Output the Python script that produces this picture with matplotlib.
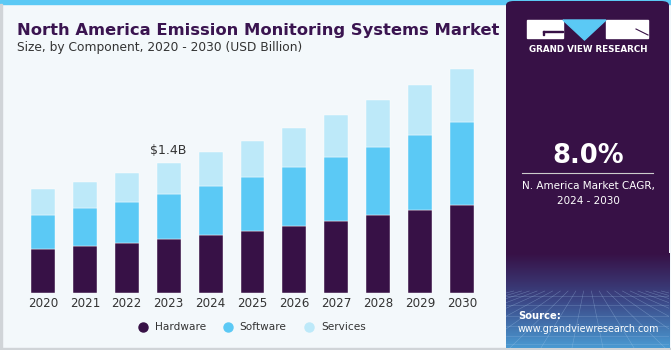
import numpy as np
import matplotlib
matplotlib.use("Agg")
import matplotlib.pyplot as plt
from matplotlib.patches import Rectangle, Polygon, FancyBboxPatch
from matplotlib.colors import LinearSegmentedColormap

# data (USD Billion)
years = ["2020", "2021", "2022", "2023", "2024", "2025", "2026", "2027", "2028", "2029", "2030"]
hardware = [0.475, 0.507, 0.543, 0.583, 0.623, 0.669, 0.720, 0.777, 0.839, 0.893, 0.953]
software = [0.370, 0.410, 0.439, 0.486, 0.525, 0.583, 0.633, 0.688, 0.734, 0.805, 0.885]
services = [0.274, 0.284, 0.310, 0.331, 0.367, 0.389, 0.421, 0.457, 0.503, 0.540, 0.572]
series_names = ["Hardware", "Software", "Services"]
series_colors = ["#371146", "#5bc9f5", "#bde9f9"]
highlight_year = "2023"
highlight_label = "$1.4B"

W, H = 671, 350
BG = "#f3f8fb"
PURPLE = "#371146"

fig = plt.figure(figsize=(W / 100, H / 100), dpi=100)
fig.patch.set_facecolor(BG)


def px(x, y):
    # pixel coords (from top-left) -> figure fraction
    return x / W, 1 - y / H


def frect(x, y, w, h, **kw):
    fig.patches.append(Rectangle((x / W, 1 - (y + h) / H), w / W, h / H,
                                 transform=fig.transFigure, **kw))


# frame: top blue stripe, grey border
frect(0, 0, W, 4, color="#5bc9f5", zorder=0)
frect(0, 4, 1.5, H - 4, color="#d0d4d8", zorder=0)
frect(0, H - 2, W, 2, color="#d0d4d8", zorder=0)

# title
fig.text(*px(17, 30), "North America Emission Monitoring Systems Market",
         fontsize=11.8, fontweight="bold", color="#3a1450", va="center", ha="left")
fig.text(*px(17, 48), "Size, by Component, 2020 - 2030 (USD Billion)",
         fontsize=8.8, color="#333333", va="center", ha="left")

# bar chart
ax = fig.add_axes([22 / W, 57 / H, 461 / W, 232 / H])
ax.set_facecolor("none")
x = np.arange(len(years))
bottom = np.zeros(len(years))
for vals, name, col in zip([hardware, software, services], series_names, series_colors):
    ax.bar(x, vals, width=0.57, bottom=bottom, color=col, label=name,
           edgecolor="#ffffff", linewidth=0.3, zorder=2)
    bottom = bottom + np.array(vals)

hi = years.index(highlight_year)
ax.text(x[hi], bottom[hi] + 0.07, highlight_label, ha="center", va="bottom",
        fontsize=9, color="#333333")

ax.set_xlim(-0.5, len(years) - 0.5)
ax.set_ylim(0, 2.5)
ax.set_xticks(x)
ax.set_xticklabels(years, fontsize=8.6, color="#333333")
ax.tick_params(axis="x", length=0, pad=3)
ax.set_yticks([])
for s in ax.spines.values():
    s.set_visible(False)

# legend
leg_items = [(143, 155), (228, 239), (309, 321)]
for (mx, tx), name, col in zip(leg_items, series_names, series_colors):
    fig.lines.append(plt.Line2D([mx / W], [1 - 327 / H], marker="o", markersize=6.5,
                                color=col, transform=fig.transFigure))
    fig.text(*px(tx, 327), name, fontsize=7.6, color="#333333", va="center", ha="left")

# right panel
panel = FancyBboxPatch((506 / W, 2 / H), (W - 508) / W, (H - 3) / H,
                       boxstyle="round,pad=0,rounding_size=0.012",
                       transform=fig.transFigure, facecolor=PURPLE,
                       edgecolor="none", zorder=1)
fig.patches.append(panel)

# gradient with a perspective grid at the bottom of the panel
gax = fig.add_axes([506 / W, 2 / H, (W - 508) / W, 95 / H])
gax.set_zorder(2)
gax.patch.set_visible(False)
grad = np.linspace(0, 1, 100)[:, None]
cmap = LinearSegmentedColormap.from_list("g", ["#4a9ad2", "#3b4786", PURPLE])
gax.imshow(grad, aspect="auto", cmap=cmap, origin="lower", extent=[0, 1, 0, 1])
for k in np.linspace(-1.5, 2.5, 22):
    gax.plot([0.5 + (k - 0.5) * 0.25, k], [0.6, 0], color="#a8c8ea", lw=0.4, alpha=0.4)
for yy in [0.04, 0.13, 0.23, 0.34, 0.45, 0.55]:
    gax.plot([0, 1], [yy, yy], color="#a8c8ea", lw=0.4, alpha=0.35)
gax.set_xlim(0, 1)
gax.set_ylim(0, 1)
gax.axis("off")

# logo
frect(527, 20, 36, 18, color="white", zorder=3)
frect(606, 20, 42, 18, color="white", zorder=3)
fig.patches.append(Polygon([px(563, 20), px(606, 20), px(584.5, 40)], closed=True,
                           color="#5bc9f5", transform=fig.transFigure, zorder=3))
frect(543, 31, 20, 1.2, color=PURPLE, zorder=4)
frect(543, 31, 1.2, 4, color=PURPLE, zorder=4)
fig.lines.append(plt.Line2D([636 / W, 648 / W], [1 - 29 / H, 1 - 35 / H],
                            color=PURPLE, lw=0.8, transform=fig.transFigure, zorder=4))
fig.text(*px(588, 50), "GRAND VIEW RESEARCH", fontsize=6.3, fontweight="bold",
         color="white", ha="center", va="center", zorder=4)

fig.text(*px(588, 156), "8.0%", fontsize=18.5, fontweight="bold", color="white",
         ha="center", va="center", zorder=4)
fig.lines.append(plt.Line2D([522 / W, 653 / W], [1 - 173 / H, 1 - 173 / H],
                            color="#cccccc", lw=0.8, transform=fig.transFigure, zorder=4))
fig.text(*px(588, 186), "N. America Market CAGR,", fontsize=7.5, color="white",
         ha="center", va="center", zorder=4)
fig.text(*px(588, 201), "2024 - 2030", fontsize=7.5, color="white",
         ha="center", va="center", zorder=4)
fig.text(*px(518, 316), "Source:", fontsize=7.2, fontweight="bold", color="white",
         ha="left", va="center", zorder=4)
fig.text(*px(518, 329), "www.grandviewresearch.com", fontsize=6.9, color="white",
         ha="left", va="center", zorder=4)

fig.savefig("out.png", dpi=100, facecolor=BG)
